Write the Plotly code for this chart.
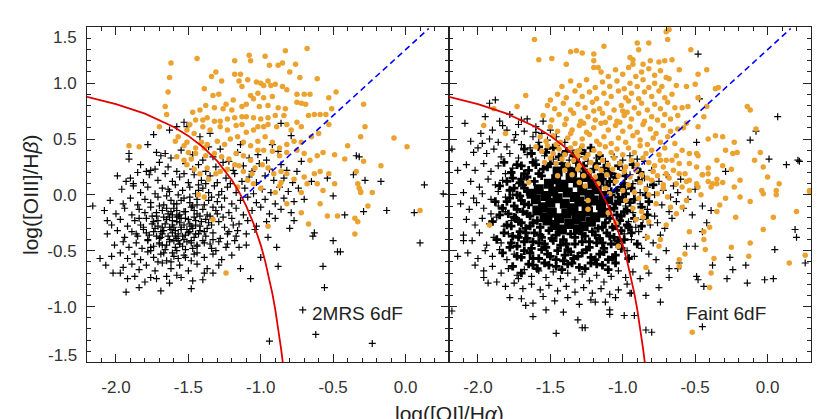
"""BPT-style [OI] diagnostic diagram: 2MRS 6dF vs Faint 6dF."""

import plotly.graph_objects as go

# ---- left panel (2MRS 6dF): star-forming / composite points (black crosses)
left_sf = [
    (-1.72, 0.38), (-1.62, 0.33), (-1.55, 0.40), (-1.47, 0.36), (-1.40, 0.31), (-1.33, 0.34), (-1.28, 0.41),
    (-1.22, 0.30), (-1.16, 0.38), (-1.08, 0.33), (-1.02, 0.36), (-0.96, 0.31), (-0.88, 0.39), (-1.36, 0.43),
    (-1.14, 0.45), (-0.92, 0.45),
    (-1.83, 0.27), (-1.76, 0.22), (-1.70, 0.29), (-1.64, 0.25), (-1.58, 0.21), (-1.52, 0.28), (-1.47, 0.23),
    (-1.43, 0.27), (-1.38, 0.21), (-1.31, 0.25), (-1.26, 0.29), (-1.19, 0.22), (-1.12, 0.26), (-1.06, 0.21),
    (-1.01, 0.28), (-0.94, 0.23), (-0.86, 0.27), (-0.82, 0.22),
    (-1.90, 0.15), (-1.81, 0.11), (-1.77, 0.18), (-1.71, 0.13), (-1.66, 0.19), (-1.61, 0.12), (-1.56, 0.16),
    (-1.50, 0.11), (-1.46, 0.18), (-1.41, 0.13), (-1.35, 0.17), (-1.30, 0.11), (-1.24, 0.15), (-1.18, 0.19),
    (-1.13, 0.12), (-1.08, 0.16), (-1.03, 0.11), (-0.97, 0.17), (-0.91, 0.13), (-0.84, 0.15), (-0.78, 0.11),
    (-1.53, 0.19), (-1.38, 0.10), (-1.21, 0.10),
    (-1.96, 0.05), (-1.88, 0.08), (-1.83, 0.02), (-1.78, 0.07), (-1.73, 0.01), (-1.68, 0.06), (-1.63, 0.03),
    (-1.59, 0.09), (-1.54, 0.04), (-1.49, 0.07), (-1.45, 0.01), (-1.40, 0.06), (-1.36, 0.02), (-1.32, 0.08),
    (-1.27, 0.03), (-1.23, 0.07), (-1.17, 0.02), (-1.11, 0.06), (-1.05, 0.01), (-0.99, 0.05), (-0.93, 0.02),
    (-0.87, 0.07), (-0.81, 0.03), (-0.74, 0.06), (-1.57, 0.00), (-1.43, 0.09), (-1.29, 0.00),
    (-2.04, -0.05), (-1.95, -0.08), (-1.90, -0.03), (-1.85, -0.09), (-1.80, -0.04), (-1.76, -0.07), (-1.71, -0.02),
    (-1.67, -0.09), (-1.62, -0.05), (-1.58, -0.08), (-1.53, -0.03), (-1.49, -0.07), (-1.44, -0.04), (-1.39, -0.09),
    (-1.34, -0.02), (-1.30, -0.06), (-1.25, -0.03), (-1.20, -0.08), (-1.14, -0.05), (-1.09, -0.02), (-1.03, -0.07),
    (-0.97, -0.04), (-0.90, -0.08), (-0.84, -0.03), (-0.77, -0.06), (-0.70, -0.04), (-1.65, -0.01), (-1.47, -0.10),
    (-1.36, -0.05),
    (-2.08, -0.14), (-2.00, -0.17), (-1.94, -0.12), (-1.89, -0.18), (-1.84, -0.13), (-1.80, -0.16), (-1.76, -0.11),
    (-1.72, -0.19), (-1.68, -0.14), (-1.64, -0.17), (-1.60, -0.12), (-1.56, -0.18), (-1.52, -0.15), (-1.48, -0.11),
    (-1.44, -0.17), (-1.40, -0.13), (-1.35, -0.19), (-1.31, -0.14), (-1.27, -0.11), (-1.22, -0.16), (-1.17, -0.12),
    (-1.12, -0.18), (-1.06, -0.14), (-1.00, -0.11), (-0.94, -0.17), (-0.86, -0.13), (-0.79, -0.16), (-1.70, -0.10),
    (-1.58, -0.20), (-1.46, -0.14), (-1.62, -0.15), (-1.33, -0.11),
    (-2.03, -0.27), (-1.97, -0.22), (-1.92, -0.28), (-1.87, -0.23), (-1.83, -0.27), (-1.79, -0.21), (-1.75, -0.26),
    (-1.71, -0.23), (-1.68, -0.29), (-1.65, -0.22), (-1.61, -0.27), (-1.58, -0.24), (-1.55, -0.29), (-1.52, -0.21),
    (-1.49, -0.26), (-1.45, -0.23), (-1.42, -0.28), (-1.38, -0.22), (-1.34, -0.27), (-1.29, -0.24), (-1.25, -0.29),
    (-1.20, -0.21), (-1.15, -0.26), (-1.09, -0.23), (-1.03, -0.28), (-0.96, -0.24), (-0.90, -0.21), (-1.63, -0.20),
    (-1.73, -0.30), (-1.56, -0.25), (-1.47, -0.30), (-1.60, -0.29),
    (-2.06, -0.35), (-1.99, -0.32), (-1.94, -0.38), (-1.89, -0.33), (-1.85, -0.37), (-1.81, -0.31), (-1.77, -0.36),
    (-1.74, -0.33), (-1.70, -0.39), (-1.67, -0.32), (-1.64, -0.37), (-1.61, -0.34), (-1.58, -0.39), (-1.55, -0.31),
    (-1.52, -0.36), (-1.49, -0.33), (-1.46, -0.38), (-1.42, -0.32), (-1.38, -0.37), (-1.33, -0.34), (-1.28, -0.39),
    (-1.22, -0.33), (-1.17, -0.37), (-1.10, -0.35), (-1.04, -0.31), (-0.95, -0.38), (-1.62, -0.31), (-1.57, -0.35),
    (-1.72, -0.37), (-1.68, -0.35), (-1.53, -0.40),
    (-2.01, -0.45), (-1.95, -0.42), (-1.91, -0.47), (-1.86, -0.43), (-1.82, -0.48), (-1.78, -0.41), (-1.74, -0.46),
    (-1.70, -0.43), (-1.66, -0.49), (-1.63, -0.42), (-1.59, -0.47), (-1.56, -0.44), (-1.52, -0.49), (-1.48, -0.41),
    (-1.44, -0.46), (-1.39, -0.43), (-1.34, -0.48), (-1.29, -0.42), (-1.24, -0.47), (-1.18, -0.41), (-1.10, -0.45),
    (-1.60, -0.41), (-1.68, -0.45), (-1.76, -0.50), (-1.54, -0.46),
    (-2.03, -0.55), (-1.97, -0.52), (-1.92, -0.57), (-1.87, -0.53), (-1.83, -0.58), (-1.78, -0.51), (-1.74, -0.56),
    (-1.69, -0.53), (-1.65, -0.59), (-1.61, -0.52), (-1.57, -0.57), (-1.53, -0.54), (-1.48, -0.59), (-1.44, -0.52),
    (-1.39, -0.56), (-1.33, -0.53), (-1.27, -0.58), (-1.20, -0.54), (-1.60, -0.55), (-1.71, -0.60),
    (-1.95, -0.65), (-1.89, -0.62), (-1.84, -0.67), (-1.79, -0.63), (-1.73, -0.68), (-1.68, -0.61), (-1.62, -0.66),
    (-1.56, -0.63), (-1.50, -0.68), (-1.44, -0.62), (-1.37, -0.66), (-1.29, -0.63),
    (-1.87, -0.73), (-1.80, -0.78), (-1.72, -0.75), (-1.63, -0.79), (-1.55, -0.74), (-1.47, -0.77), (-1.40, -0.76),
    # denser core
    (-1.74, -0.24), (-1.69, -0.33), (-1.66, -0.26), (-1.63, -0.40), (-1.59, -0.32), (-1.57, -0.19), (-1.54, -0.37),
    (-1.51, -0.31), (-1.48, -0.43), (-1.45, -0.27), (-1.43, -0.35), (-1.40, -0.41), (-1.37, -0.18), (-1.70, -0.44),
    (-1.65, -0.12), (-1.61, -0.23), (-1.56, -0.44), (-1.53, -0.15), (-1.50, -0.22), (-1.47, -0.48), (-1.44, -0.09),
    (-1.41, -0.24), (-1.78, -0.40), (-1.72, -0.16), (-1.67, -0.52), (-1.58, -0.50), (-1.52, -0.56), (-1.46, -0.53),
    (-1.62, -0.60), (-1.55, -0.05), (-1.49, -0.02), (-1.43, 0.04), (-1.37, -0.30), (-1.35, -0.44), (-1.81, -0.29),
    (-1.84, -0.21), (-1.86, -0.35), (-1.76, -0.47), (-1.60, -0.08), (-1.64, 0.05),
    (-1.71, -0.28), (-1.67, -0.20), (-1.63, -0.29), (-1.59, -0.37), (-1.55, -0.21), (-1.51, -0.42), (-1.48, -0.28),
    (-1.45, -0.35), (-1.42, -0.19), (-1.39, -0.33), (-1.36, -0.25), (-1.33, -0.40), (-1.30, -0.17), (-1.69, -0.38),
    (-1.65, -0.45), (-1.61, -0.18), (-1.57, -0.41), (-1.53, -0.27), (-1.50, -0.34), (-1.46, -0.20), (-1.79, -0.34),
    (-1.75, -0.19), (-1.58, -0.14), (-1.44, -0.45), (-1.26, -0.20), (-1.23, -0.35), (-1.19, -0.27), (-1.31, -0.50),
    # upper and outlying points
    (-1.74, 0.54), (-1.78, 0.45), (-1.91, 0.37), (-1.91, 0.32), (-1.99, 0.17), (-1.93, 0.12), (-1.88, 0.10),
    (-1.85, 0.20), (-1.79, 0.21), (-1.73, 0.23), (-1.69, 0.35), (-1.66, 0.37), (-1.63, 0.58), (-1.58, 0.61),
    (-1.53, 0.65), (-1.51, 0.61), (-1.42, 0.52), (-1.35, 0.55), (-0.86, 0.64), (-0.79, 0.53), (-0.75, 0.21),
    (-0.72, 0.30), (-0.65, 0.12), (-0.54, 0.15), (-0.50, -0.01), (-0.32, 0.34), (-0.28, 0.13), (-0.17, 0.12),
    (-2.16, -0.10), (-2.11, -0.57), (-2.07, -0.63), (-2.06, -0.23), (-2.02, -0.70), (-1.93, -0.87), (-1.84, -0.83),
    (-1.69, -0.86), (-1.48, -0.84), (-0.94, -1.31), (-0.71, -1.03), (-0.62, -1.25), (-0.23, -1.33), (-0.56, -0.83),
    (-0.57, -0.64), (-0.50, -0.41), (-0.47, -0.51), (-0.45, -0.51), (0.13, 0.09), (0.26, 0.01), (0.10, -0.43),
    (-0.13, -0.14), (0.06, -0.16), (-0.29, -0.15), (-0.34, 0.35), (-0.36, 0.18), (-0.42, -0.18), (-0.63, -0.34),
    (-0.64, -0.37), (-0.77, -0.23), (-0.80, -0.30), (-0.89, -0.47), (-1.00, -0.56), (-0.88, -0.64), (-1.14, -0.66),
    (-1.07, -0.75), (-1.15, -0.47), (-1.23, -0.44), (-1.16, -0.32), (-1.33, -0.70), (-1.39, -0.70), (-1.58, -0.72),
    (-1.65, -0.73), (-1.76, -0.74), (-1.92, -0.75), (-1.97, -0.70),
]

# ---- left panel: AGN-like points (orange dots)
left_agn = [
    (-1.62, 1.18), (-1.63, 1.05), (-1.64, 0.92), (-1.66, 0.79), (-1.65, 0.72), (-1.70, 0.61), (-1.91, 0.44),
    (-1.84, 0.43), (-1.44, 1.22), (-1.08, 1.25), (-1.07, 1.20), (-1.18, 1.20), (-0.97, 1.24), (-0.94, 1.16),
    (-0.83, 1.29), (-0.68, 1.31), (-0.85, 1.18), (-0.88, 1.16), (-0.76, 1.17), (-0.80, 1.10), (-1.31, 1.10),
    (-1.34, 1.06), (-1.27, 1.02), (-1.18, 1.08), (-1.14, 1.08), (-1.15, 1.02), (-1.09, 1.03), (-1.13, 0.97),
    (-1.03, 1.01), (-1.00, 1.00), (-0.95, 1.02), (-0.93, 0.98), (-0.98, 0.98), (-0.90, 0.99), (-0.85, 0.97),
    (-0.82, 0.94), (-0.73, 1.05), (-0.61, 1.04), (-0.48, 0.92), (-0.53, 0.87), (-1.39, 0.95), (-1.33, 0.89),
    (-1.29, 0.90), (-1.19, 0.85), (-1.07, 0.89), (-1.02, 0.91), (-0.98, 0.87), (-0.92, 0.88), (-0.75, 0.90),
    (-0.70, 0.90), (-0.66, 0.90), (-0.75, 0.83), (-0.72, 0.82), (-0.69, 0.81), (-0.51, 0.77), (-0.29, 0.81),
    (-0.28, 0.61), (-0.31, 0.52), (-0.08, 0.51), (0.01, 0.43), (-1.47, 0.74), (-1.42, 0.76), (-1.38, 0.80),
    (-1.32, 0.78), (-1.24, 0.81), (-1.26, 0.77), (-1.20, 0.76), (-1.13, 0.79), (-1.10, 0.81), (-1.05, 0.86),
    (-1.01, 0.79), (-0.95, 0.80), (-0.88, 0.78), (-0.83, 0.77), (-0.84, 0.71), (-0.90, 0.71), (-0.95, 0.69),
    (-1.00, 0.68), (-1.05, 0.69), (-1.10, 0.70), (-1.13, 0.70), (-1.18, 0.69), (-1.23, 0.68), (-1.28, 0.66),
    (-1.32, 0.66), (-1.37, 0.69), (-1.40, 0.67), (-1.45, 0.67), (-1.49, 0.63), (-1.51, 0.58), (-1.57, 0.52),
    (-1.59, 0.48), (-1.53, 0.44), (-1.46, 0.55), (-1.40, 0.61), (-1.35, 0.58), (-1.28, 0.61), (-1.23, 0.58),
    (-1.17, 0.62), (-1.13, 0.63), (-1.10, 0.56), (-1.05, 0.58), (-1.02, 0.61), (-0.98, 0.61), (-0.95, 0.63),
    (-0.89, 0.61), (-0.82, 0.63), (-0.79, 0.58), (-0.75, 0.65), (-0.72, 0.61), (-0.67, 0.71), (-0.63, 0.72),
    (-0.59, 0.72), (-0.55, 0.72), (-0.53, 0.63), (-0.60, 0.55), (-0.65, 0.52), (-0.72, 0.47), (-0.77, 0.48),
    (-0.82, 0.45), (-0.87, 0.42), (-0.92, 0.47), (-0.97, 0.52), (-1.02, 0.48), (-1.07, 0.44), (-1.12, 0.47),
    (-1.16, 0.52), (-1.21, 0.50), (-1.25, 0.45), (-1.30, 0.48), (-1.37, 0.45), (-1.41, 0.47), (-1.45, 0.42),
    (-1.50, 0.38), (-1.58, 0.34), (-1.53, 0.31), (-1.45, 0.37), (-1.38, 0.35), (-1.32, 0.37), (-1.27, 0.34),
    (-1.22, 0.32), (-1.17, 0.37), (-1.12, 0.35), (-1.07, 0.31), (-1.02, 0.40), (-0.98, 0.40), (-0.92, 0.39),
    (-0.87, 0.35), (-0.82, 0.38), (-0.75, 0.40), (-0.70, 0.37), (-0.66, 0.31), (-0.61, 0.35), (-0.57, 0.38),
    (-0.49, 0.36), (-0.42, 0.32), (-0.40, 0.44), (-0.29, 0.30), (-0.17, 0.26), (-0.34, 0.21), (-0.33, 0.10),
    (-0.32, 0.06), (-0.31, 0.03), (-0.23, 0.02), (-0.57, 0.04), (-0.53, 0.19), (-0.59, 0.21), (-0.63, 0.19),
    (-0.70, 0.16), (-0.77, 0.14), (-0.82, 0.19), (-0.86, 0.21), (-0.91, 0.19), (-0.95, 0.24), (-0.99, 0.27),
    (-1.04, 0.24), (-1.06, 0.19), (-1.12, 0.21), (-1.15, 0.26), (-1.18, 0.27), (-1.23, 0.23), (-1.28, 0.21),
    (-1.31, 0.19), (-1.36, 0.14), (-1.42, 0.19), (-1.46, 0.23), (-1.51, 0.27), (-1.37, 0.24), (-1.09, 0.13),
    (-1.05, 0.10), (-1.00, 0.06), (-0.86, 0.11), (-0.87, 0.08), (-0.72, 0.02), (-0.68, 0.10), (-0.61, 0.10),
    (-0.49, 0.10), (-1.39, 0.42), (-1.48, 0.32), (-1.51, 0.47),
    (-1.43, 0.00), (-1.39, -0.02), (-1.33, -0.22), (-1.24, -0.70), (-1.16, 0.07), (-0.95, -0.28), (-0.90, 0.02),
    (-0.82, -0.08), (-0.72, -0.16), (-0.67, -0.26), (-0.59, -0.08), (-0.54, -0.19), (-0.47, -0.19), (-0.35, -0.21),
    (-0.33, -0.24), (-0.35, -0.35), (-0.26, -0.10), (-0.31, 0.02), (0.10, -0.14),
]

# ---- right panel (Faint 6dF): black crosses, outer cloud
right_sf = [
    # upper left wing
    (-1.88, 0.85), (-1.92, 0.82), (-2.09, 0.64), (-2.18, 0.41), (-2.14, 0.22), (-2.03, 0.38), (-1.95, 0.70),
    (-1.85, 0.66), (-1.78, 0.72), (-1.72, 0.63), (-1.66, 0.68), (-1.60, 0.61), (-1.55, 0.66), (-1.80, 0.58),
    (-1.74, 0.54), (-1.68, 0.57), (-1.62, 0.52), (-1.56, 0.55), (-1.50, 0.58), (-1.46, 0.52), (-1.98, 0.55),
    (-1.92, 0.50), (-1.86, 0.47), (-1.80, 0.43), (-1.75, 0.49), (-1.70, 0.45), (-1.64, 0.42), (-1.58, 0.47),
    (-1.52, 0.41), (-1.46, 0.44), (-1.40, 0.47), (-1.35, 0.40), (-2.05, 0.48), (-2.00, 0.42), (-1.94, 0.37),
    (-1.89, 0.41), (-1.84, 0.34), (-1.78, 0.37), (-1.72, 0.33), (-1.66, 0.36), (-1.60, 0.31), (-1.54, 0.35),
    (-1.48, 0.32), (-1.42, 0.36), (-1.37, 0.31), (-1.30, 0.34), (-1.24, 0.30), (-1.18, 0.33), (-1.12, 0.30),
    (-1.06, 0.34), (-1.00, 0.31), (-0.95, 0.35), (-0.90, 0.32), (-0.85, 0.30), (-1.83, 0.62), (-1.70, 0.67),
    (-1.90, 0.58), (-1.97, 0.46), (-1.60, 0.56), (-1.52, 0.49),
    # left and right flanks of the cloud
    (-2.08, 0.27), (-2.02, 0.22), (-1.96, 0.28), (-1.91, 0.21), (-1.86, 0.26), (-1.81, 0.19), (-1.76, 0.24),
    (-2.05, 0.12), (-1.99, 0.07), (-1.93, 0.14), (-1.88, 0.09), (-1.83, 0.13), (-1.78, 0.05), (-1.72, 0.10),
    (-2.10, 0.02), (-2.03, -0.03), (-1.97, 0.01), (-1.91, -0.04), (-1.86, 0.03), (-1.81, -0.02), (-1.76, 0.00),
    (-1.00, 0.22), (-0.95, 0.18), (-0.90, 0.24), (-0.85, 0.15), (-0.80, 0.22), (-0.75, 0.12), (-0.70, 0.18),
    (-0.65, 0.08), (-0.60, 0.14), (-0.98, 0.05), (-0.93, 0.10), (-0.88, 0.02), (-0.83, 0.07), (-0.78, 0.00),
    (-0.72, 0.04), (-0.67, -0.02), (-0.62, 0.02), (-0.55, -0.04), (-0.50, 0.05),
    (-2.12, -0.08), (-2.06, -0.13), (-2.01, -0.07), (-1.96, -0.12), (-1.91, -0.17), (-1.86, -0.10), (-1.81, -0.15),
    (-2.08, -0.22), (-2.02, -0.27), (-1.97, -0.21), (-1.92, -0.26), (-1.87, -0.20), (-1.82, -0.28), (-1.77, -0.23),
    (-0.98, -0.10), (-0.93, -0.16), (-0.88, -0.08), (-0.83, -0.13), (-0.78, -0.19), (-0.73, -0.09), (-0.68, -0.15),
    (-0.63, -0.06), (-0.58, -0.12), (-0.96, -0.24), (-0.91, -0.29), (-0.86, -0.22), (-0.81, -0.27), (-0.76, -0.25),
    (-0.71, -0.30), (-0.66, -0.21), (-0.52, -0.18), (-0.45, -0.10),
    (-2.10, -0.36), (-2.04, -0.41), (-1.99, -0.34), (-1.94, -0.45), (-1.89, -0.38), (-1.84, -0.43), (-1.79, -0.35),
    (-2.07, -0.52), (-2.00, -0.57), (-1.95, -0.50), (-1.90, -0.55), (-1.85, -0.49), (-1.80, -0.58), (-1.75, -0.53),
    (-0.99, -0.35), (-0.94, -0.40), (-0.89, -0.33), (-0.84, -0.38), (-0.79, -0.43), (-0.74, -0.36), (-0.97, -0.50),
    (-0.92, -0.55), (-0.87, -0.48), (-0.82, -0.53), (-0.77, -0.58), (-0.70, -0.50),
    # lower part of the cloud
    (-2.02, -0.63), (-1.96, -0.68), (-1.90, -0.64), (-1.84, -0.70), (-1.79, -0.66), (-1.73, -0.72), (-1.68, -0.67),
    (-1.63, -0.73), (-1.58, -0.68), (-1.53, -0.74), (-1.48, -0.69), (-1.43, -0.75), (-1.38, -0.70), (-1.33, -0.76),
    (-1.28, -0.71), (-1.23, -0.77), (-1.18, -0.72), (-1.13, -0.78), (-1.08, -0.73), (-1.03, -0.68), (-0.98, -0.74),
    (-0.93, -0.69), (-0.88, -0.75), (-0.82, -0.70), (-1.87, -0.78), (-1.81, -0.82), (-1.75, -0.79), (-1.69, -0.84),
    (-1.63, -0.80), (-1.57, -0.85), (-1.51, -0.81), (-1.45, -0.86), (-1.39, -0.82), (-1.33, -0.87), (-1.27, -0.83),
    (-1.21, -0.88), (-1.15, -0.84), (-1.09, -0.89), (-1.03, -0.85), (-0.97, -0.80),
    (-1.70, -0.93), (-1.62, -0.97), (-1.55, -0.91), (-1.47, -0.95), (-1.38, -0.92), (-1.30, -0.98), (-1.22, -0.94),
    (-1.12, -0.96), (-1.05, -0.92),
    # scattered outliers
    (-2.18, -1.04), (-2.14, -0.55), (-2.10, -0.41), (-1.96, -0.74), (-1.93, -0.79), (-1.78, -0.92), (-1.72, -0.75),
    (-1.67, -0.99), (-1.62, -1.09), (-1.53, -1.03), (-1.46, -1.24), (-1.41, -1.05), (-1.31, -1.12), (-1.28, -1.19),
    (-1.26, -1.19), (-1.19, -0.96), (-1.09, -1.03), (-1.09, -1.07), (-0.99, -1.08), (-0.92, -1.08), (-0.95, -0.88),
    (-0.94, -0.88), (-0.84, -1.21), (-0.80, -1.23), (-0.84, -0.90), (-0.74, -0.96), (-0.75, -0.83), (-0.68, -0.66),
    (-0.68, -0.74), (-0.62, -0.66), (-0.61, -0.61), (-0.50, -0.46), (-0.56, -0.46), (-0.49, -0.73), (-0.48, -0.76),
    (-0.44, -0.82), (-0.45, -1.18), (-0.38, -0.63), (-0.28, -0.75), (-0.26, -0.56), (-0.24, -0.67), (-0.15, -0.63),
    (-0.14, -0.79), (-0.02, -0.76), (0.04, -0.75), (0.05, -0.49), (0.19, -0.31), (0.20, -0.38), (0.26, -0.61),
    (0.13, 0.27), (0.21, 0.31), (-0.39, -0.14), (-0.42, -0.25), (-0.45, -0.33), (-0.48, 1.26), (-0.47, 0.86),
    (0.07, 0.70), (-0.08, 0.57), (-0.12, 0.49), (0.22, 0.30), (0.01, 0.32), (-0.29, 0.21), (-0.49, 0.47),
]

# ---- right panel: dense zone around the core, crosses crowd together here
right_sf_dense = [
    (-1.70, 0.26), (-1.65, 0.22), (-1.60, 0.27), (-1.55, 0.23), (-1.50, 0.28), (-1.40, 0.25), (-1.30, 0.24),
    (-1.20, 0.23), (-1.15, 0.18), (-1.10, 0.21), (-1.05, 0.16), (-1.76, 0.15), (-1.71, 0.11), (-1.66, 0.16),
    (-1.61, 0.12), (-1.56, 0.17), (-1.11, 0.08), (-1.06, 0.12), (-1.01, 0.07), (-1.78, 0.04), (-1.73, 0.00),
    (-1.68, 0.06), (-1.08, 0.03), (-1.03, -0.02), (-0.98, 0.01), (-1.80, -0.06), (-1.75, -0.10), (-1.70, -0.05),
    (-1.65, -0.09), (-1.05, -0.08), (-1.00, -0.03), (-0.95, -0.07), (-1.79, -0.17), (-1.74, -0.21), (-1.69, -0.15),
    (-1.64, -0.19), (-1.09, -0.13), (-1.04, -0.18), (-0.99, -0.15), (-1.77, -0.28), (-1.72, -0.24), (-1.67, -0.30),
    (-1.62, -0.25), (-1.57, -0.29), (-1.17, -0.30), (-1.12, -0.25), (-1.07, -0.29), (-1.02, -0.23), (-0.97, -0.27),
    (-1.76, -0.37), (-1.71, -0.33), (-1.66, -0.39), (-1.61, -0.34), (-1.56, -0.38), (-1.51, -0.32), (-1.46, -0.36),
    (-1.41, -0.40), (-1.36, -0.35), (-1.26, -0.37), (-1.21, -0.33), (-1.16, -0.39), (-1.11, -0.34), (-1.06, -0.38),
    (-1.01, -0.32),
    (-1.73, -0.46), (-1.68, -0.42), (-1.63, -0.48), (-1.58, -0.43), (-1.53, -0.47), (-1.48, -0.41), (-1.43, -0.45),
    (-1.38, -0.49), (-1.33, -0.44), (-1.28, -0.42), (-1.23, -0.47), (-1.18, -0.43), (-1.13, -0.48), (-1.08, -0.44),
    (-1.03, -0.41), (-1.70, -0.56), (-1.64, -0.52), (-1.58, -0.57), (-1.52, -0.53), (-1.46, -0.58), (-1.40, -0.54),
    (-1.34, -0.57), (-1.28, -0.52), (-1.22, -0.56), (-1.16, -0.53), (-1.10, -0.58), (-1.05, -0.54),
    (-1.62, -0.63), (-1.54, -0.61), (-1.46, -0.64), (-1.38, -0.62), (-1.30, -0.65), (-1.22, -0.61), (-1.14, -0.63),
    (-1.68, 0.41), (-1.63, 0.37), (-1.58, 0.43), (-1.53, 0.38), (-1.48, 0.42), (-1.44, 0.34), (-1.39, 0.39),
    (-1.34, 0.35), (-1.29, 0.40), (-1.26, 0.37), (-1.22, 0.42), (-1.16, 0.35),
    (-1.82, 0.29), (-1.77, 0.20), (-1.73, 0.27), (-1.68, 0.19), (-1.62, 0.29), (-1.58, 0.19), (-1.52, 0.25),
    (-1.42, 0.28), (-1.37, 0.24), (-1.32, 0.29), (-1.27, 0.26), (-1.18, 0.28), (-1.13, 0.24), (-1.08, 0.19),
    (-1.03, 0.26), (-0.98, 0.17), (-0.93, 0.27), (-0.88, 0.20),
    (-1.85, 0.08), (-1.80, 0.12), (-1.75, 0.06), (-1.70, 0.14), (-1.66, 0.03), (-1.09, 0.12), (-1.04, 0.04),
    (-0.99, 0.10), (-0.94, 0.06), (-0.89, 0.13), (-0.84, 0.00), (-0.79, 0.09), (-1.69, 0.09), (-1.14, 0.14),
    (-1.88, -0.06), (-1.83, -0.12), (-1.78, -0.03), (-1.73, -0.13), (-1.68, -0.08), (-1.06, -0.12), (-1.02, -0.06),
    (-0.97, -0.14), (-0.92, -0.04), (-0.87, -0.11), (-0.82, -0.06), (-1.71, -0.01), (-1.08, 0.00),
    (-1.90, -0.24), (-1.85, -0.18), (-1.80, -0.27), (-1.75, -0.20), (-1.70, -0.25), (-1.66, -0.17), (-1.64, -0.28),
    (-1.09, -0.21), (-1.05, -0.28), (-1.01, -0.19), (-0.96, -0.29), (-0.92, -0.21), (-0.87, -0.28), (-0.83, -0.18),
    (-1.14, -0.29), (-1.59, -0.23),
    (-1.87, -0.40), (-1.82, -0.34), (-1.77, -0.43), (-1.72, -0.38), (-1.67, -0.34), (-1.62, -0.42), (-1.57, -0.36),
    (-1.54, -0.44), (-1.49, -0.39), (-1.44, -0.33), (-1.39, -0.44), (-1.33, -0.38), (-1.28, -0.35), (-1.23, -0.42),
    (-1.19, -0.36), (-1.14, -0.43), (-1.09, -0.37), (-1.04, -0.44), (-0.99, -0.40), (-0.94, -0.34), (-0.90, -0.44),
    (-1.83, -0.52), (-1.78, -0.47), (-1.73, -0.55), (-1.68, -0.50), (-1.62, -0.57), (-1.56, -0.49), (-1.50, -0.55),
    (-1.45, -0.50), (-1.41, -0.59), (-1.36, -0.51), (-1.31, -0.55), (-1.25, -0.49), (-1.19, -0.58), (-1.13, -0.51),
    (-1.07, -0.56), (-1.01, -0.48), (-0.96, -0.57),
    (-1.76, -0.64), (-1.70, -0.70), (-1.65, -0.62), (-1.59, -0.66), (-1.51, -0.63), (-1.42, -0.67), (-1.35, -0.61),
    (-1.26, -0.66), (-1.18, -0.62), (-1.10, -0.67), (-1.05, -0.61),
]

# ---- right panel: saturated core, where the crosses overlap into solid black
right_sf_core = [
    (-1.45, 0.21), (-1.35, 0.20), (-1.25, 0.19),
    (-1.51, 0.10), (-1.46, 0.14), (-1.41, 0.09), (-1.36, 0.15), (-1.31, 0.11), (-1.26, 0.16), (-1.21, 0.10),
    (-1.16, 0.13),
    (-1.63, 0.01), (-1.58, 0.05), (-1.53, -0.01), (-1.48, 0.03), (-1.43, 0.07), (-1.38, 0.02), (-1.33, -0.02),
    (-1.28, 0.04), (-1.23, 0.00), (-1.18, 0.05), (-1.13, -0.01),
    (-1.60, -0.04), (-1.55, -0.11), (-1.50, -0.07), (-1.45, -0.03), (-1.40, -0.08), (-1.35, -0.12), (-1.30, -0.06),
    (-1.25, -0.10), (-1.20, -0.05), (-1.15, -0.09), (-1.10, -0.04),
    (-1.59, -0.14), (-1.54, -0.20), (-1.49, -0.16), (-1.44, -0.21), (-1.39, -0.17), (-1.34, -0.14), (-1.29, -0.19),
    (-1.24, -0.15), (-1.19, -0.20), (-1.14, -0.16),
    (-1.52, -0.23), (-1.47, -0.27), (-1.42, -0.31), (-1.37, -0.26), (-1.32, -0.22), (-1.27, -0.28), (-1.22, -0.24),
    (-1.31, -0.31),
]

# ---- right panel: AGN-like points (orange dots)
right_agn = [
    (-1.61, 1.39), (-1.58, 1.21), (-1.49, 1.22), (-1.39, 1.17), (-1.36, 1.28), (-1.32, 1.29), (-1.28, 1.27),
    (-1.20, 1.26), (-1.13, 1.33), (-0.90, 1.36), (-0.89, 1.30), (-0.82, 1.36), (-0.70, 1.46), (-0.69, 1.39),
    (-0.68, 1.48), (-0.53, 1.30), (-1.20, 1.20), (-1.20, 1.14), (-1.17, 1.14), (-0.95, 1.23), (-0.93, 1.21),
    (-0.86, 1.17), (-0.81, 1.20), (-0.75, 1.19), (-0.71, 1.20), (-0.66, 1.21), (-0.61, 1.12), (-0.42, 1.12),
    (-0.48, 1.08), (-0.68, 1.04), (-0.63, 0.98), (-0.56, 0.97), (-0.50, 0.99), (-0.48, 0.87), (-0.36, 0.95),
    (-0.34, 0.96), (-0.42, 0.79), (-0.44, 0.70), (-0.55, 0.79), (-0.59, 0.78), (-0.56, 0.64), (-0.62, 0.59),
    (-0.48, 0.61), (-0.41, 0.50), (-0.36, 0.53), (-0.31, 0.52), (-0.14, 0.79), (-0.12, 0.76), (-0.08, 0.59),
    (-0.23, 0.47), (-0.21, 0.38), (-0.29, 0.40), (-0.03, 0.25), (0.00, 0.16), (0.08, 0.10), (0.06, 0.04),
    (-0.03, 0.01), (0.29, 0.03), (-0.25, 0.23), (-0.19, 0.13), (-0.31, 0.11), (-0.35, 0.14), (-0.38, 0.10),
    (-0.41, 0.19), (-0.45, 0.18), (-0.49, 0.25), (-0.48, 0.35), (-0.54, 0.37), (-0.59, 0.40), (-0.63, 0.35),
    (-0.61, 0.28), (-0.57, 0.19), (-0.54, 0.13), (-0.48, 0.07), (-0.59, 0.07), (-0.63, 0.10), (-0.68, 0.15),
    (-0.70, 0.19), (-0.72, 0.25), (-0.66, 0.31), (-1.67, 0.89), (-1.73, 0.79), (-1.96, 0.62), (-1.89, 0.77),
    (-1.81, 0.55), (-1.65, 0.11),
    (-1.05, 1.12), (-1.00, 1.08), (-0.96, 1.14), (-0.91, 1.06), (-0.87, 1.10), (-0.82, 1.13), (-0.78, 1.07),
    (-0.74, 1.11), (-1.10, 1.06), (-0.70, 1.05), (-1.15, 1.10), (-0.93, 1.17),
    (-1.30, 0.98), (-1.25, 1.03), (-1.19, 0.96), (-1.14, 1.01), (-1.09, 0.97), (-1.04, 1.02), (-0.99, 0.95),
    (-0.95, 1.00), (-0.90, 0.97), (-0.86, 1.03), (-0.82, 0.96), (-0.78, 1.00), (-0.73, 0.97), (-1.36, 1.02),
    (-1.42, 0.97),
    (-1.45, 0.90), (-1.39, 0.87), (-1.33, 0.93), (-1.28, 0.88), (-1.23, 0.92), (-1.18, 0.86), (-1.13, 0.91),
    (-1.08, 0.88), (-1.03, 0.93), (-0.98, 0.87), (-0.94, 0.91), (-0.89, 0.86), (-0.85, 0.92), (-0.80, 0.88),
    (-0.75, 0.93), (-0.71, 0.87), (-0.66, 0.90), (-1.50, 0.85),
    (-1.52, 0.80), (-1.47, 0.77), (-1.41, 0.82), (-1.36, 0.76), (-1.31, 0.81), (-1.26, 0.78), (-1.21, 0.83),
    (-1.16, 0.77), (-1.11, 0.82), (-1.06, 0.76), (-1.01, 0.80), (-0.96, 0.84), (-0.92, 0.78), (-0.87, 0.82),
    (-0.83, 0.76), (-0.78, 0.81), (-0.74, 0.77), (-0.69, 0.83), (-0.64, 0.78), (-1.00, 0.75), (-1.20, 0.75),
    (-1.55, 0.71), (-1.49, 0.67), (-1.44, 0.72), (-1.39, 0.68), (-1.34, 0.73), (-1.29, 0.66), (-1.24, 0.70),
    (-1.19, 0.67), (-1.14, 0.73), (-1.09, 0.69), (-1.04, 0.66), (-0.99, 0.71), (-0.94, 0.68), (-0.89, 0.73),
    (-0.85, 0.66), (-0.80, 0.70), (-0.76, 0.67), (-0.71, 0.72), (-0.67, 0.68), (-0.62, 0.71), (-1.12, 0.65),
    (-0.97, 0.74),
    (-1.50, 0.61), (-1.45, 0.57), (-1.40, 0.63), (-1.35, 0.58), (-1.30, 0.62), (-1.25, 0.56), (-1.20, 0.60),
    (-1.15, 0.64), (-1.10, 0.58), (-1.05, 0.62), (-1.00, 0.57), (-0.95, 0.61), (-0.90, 0.56), (-0.86, 0.63),
    (-0.81, 0.59), (-0.77, 0.55), (-0.72, 0.62), (-0.67, 0.57), (-0.58, 0.60), (-1.27, 0.64), (-1.02, 0.65),
    (-1.57, 0.52), (-1.53, 0.48), (-1.48, 0.53), (-1.43, 0.47), (-1.38, 0.51), (-1.33, 0.46), (-1.28, 0.50),
    (-1.23, 0.54), (-1.18, 0.48), (-1.13, 0.52), (-1.08, 0.46), (-1.03, 0.51), (-0.98, 0.47), (-0.93, 0.53),
    (-0.88, 0.49), (-0.83, 0.45), (-0.79, 0.51), (-0.74, 0.47), (-0.69, 0.52), (-0.64, 0.46), (-1.36, 0.55),
    (-1.16, 0.45),
    (-1.60, 0.43), (-1.56, 0.39), (-1.52, 0.44), (-1.48, 0.37), (-1.44, 0.41), (-1.40, 0.36), (-1.36, 0.42),
    (-1.32, 0.38), (-1.28, 0.44), (-1.24, 0.36), (-1.20, 0.40), (-1.16, 0.37), (-1.12, 0.43), (-1.08, 0.38),
    (-1.04, 0.41), (-1.00, 0.36), (-0.96, 0.42), (-0.92, 0.38), (-0.88, 0.44), (-0.84, 0.37), (-0.80, 0.40),
    (-0.75, 0.36), (-0.71, 0.42), (-1.46, 0.45), (-1.30, 0.40),
    (-1.50, 0.33), (-1.46, 0.28), (-1.42, 0.32), (-1.38, 0.27), (-1.34, 0.31), (-1.30, 0.26), (-1.26, 0.33),
    (-1.22, 0.29), (-1.18, 0.25), (-1.14, 0.31), (-1.10, 0.27), (-1.06, 0.33), (-1.02, 0.28), (-0.98, 0.25),
    (-0.94, 0.31), (-0.90, 0.27), (-0.86, 0.33), (-0.82, 0.29), (-0.78, 0.26), (-0.74, 0.31), (-1.54, 0.29),
    (-1.31, 0.35),
    (-1.40, 0.22), (-1.35, 0.18), (-1.31, 0.23), (-1.27, 0.17), (-1.23, 0.21), (-1.19, 0.16), (-1.15, 0.22),
    (-1.11, 0.18), (-1.07, 0.23), (-1.03, 0.17), (-0.99, 0.21), (-0.95, 0.16), (-0.91, 0.22), (-0.87, 0.18),
    (-0.83, 0.15), (-0.79, 0.21), (-0.76, 0.17), (-1.45, 0.17),
    (-1.17, 0.10), (-1.12, 0.06), (-1.05, 0.12), (-1.00, 0.04), (-0.96, 0.09), (-0.92, 0.02), (-0.88, 0.11),
    (-0.84, 0.05), (-0.80, 0.13), (-0.76, 0.01), (-0.72, 0.06), (-1.09, 0.01), (-1.26, 0.08), (-1.30, 0.11),
    (-1.24, -0.05), (-1.24, -0.13), (-0.98, -0.05), (-0.93, -0.12), (-0.89, -0.03), (-0.86, -0.20),
    (-1.92, -0.27), (-1.10, -0.16), (-1.05, -0.25), (-1.03, -0.46), (-0.84, -0.65), (-0.91, -0.22), (-0.82, -0.24),
    (-0.83, -0.38), (-0.75, -0.46), (-0.74, -0.40), (-0.70, -0.27), (-0.61, -0.58), (-0.61, -0.64), (-0.57, -0.53),
    (-0.54, -0.33), (-0.44, -0.33), (-0.44, -0.40), (-0.43, -0.49), (-0.40, -0.29), (-0.39, -0.70), (-0.40, -0.83),
    (-0.52, -1.23), (-0.37, -0.57), (-0.25, -0.47), (-0.22, -0.20), (-0.13, -0.55), (-0.12, -0.43), (-0.03, -0.31),
    (0.04, -0.20), (0.15, -0.61), (0.26, -0.54), (0.20, -0.15), (0.29, 0.04), (0.06, 0.00), (-0.04, 0.04),
    (-0.12, -0.06), (-0.19, -0.02), (-0.23, 0.07), (-0.29, -0.03), (-0.33, -0.09), (-0.35, -0.15), (-0.39, 0.07),
    (-0.41, 0.12), (-0.45, 0.18), (-0.49, 0.10), (-0.54, 0.04), (-0.56, -0.05), (-0.59, -0.11), (-0.63, -0.17),
    (-0.67, -0.11), (-0.69, -0.02), (-0.72, 0.09), (-0.77, -0.08), (-0.82, 0.00), (-0.87, -0.15), (-0.09, 0.31),
    (-0.05, 0.38), (-0.24, 0.37), (-0.31, 0.26), (-0.35, 0.31), (-0.41, 0.24), (-0.49, 0.37), (-0.54, 0.28),
    (-0.61, 0.19), (-0.65, 0.22), (-0.70, 0.31), (-0.56, 0.12), (-0.46, 0.00), (-0.35, 0.10),
]

# ---- demarcation lines (Kewley et al. maximum starburst, Seyfert/LINER)
kewley_x = [-2.2, -2.0, -1.8, -1.6, -1.5, -1.4, -1.3, -1.2, -1.15, -1.1, -1.05, -1.0, -0.97,
            -0.94, -0.92, -0.90, -0.88, -0.86, -0.85, -0.845, -0.842]
kewley_y = [0.877, 0.812, 0.727, 0.607, 0.528, 0.429, 0.302, 0.133, 0.026, -0.101, -0.257, -0.450, -0.591,
            -0.756, -0.882, -1.025, -1.187, -1.374, -1.478, -1.533, -1.567]
seyfert_x = [-1.127, 0.16]
seyfert_y = [-0.030, 1.489]

panel_labels = ["2MRS 6dF", "Faint 6dF"]

FONT = "Liberation Sans, Arial, sans-serif"
BLACK = "#000000"
ORANGE = "#EBA22F"

# the page body has an 8px margin, so the figure is laid out in a 830x411 box
PAGE_OFF = 8
W, H = 838 - PAGE_OFF, 419 - PAGE_OFF


def px(x):
    return (x - PAGE_OFF) / W


def py(y):
    return 1 - (y - PAGE_OFF) / H


fig = go.Figure()


def add_points(points, xa, ya, marker):
    xs, ys = zip(*points)
    fig.add_trace(go.Scatter(x=xs, y=ys, mode="markers", xaxis=xa, yaxis=ya, marker=marker))


def add_panel(n, sf_points, agn_points, dense_points=None, core_points=None):
    xa, ya = ("x", "y") if n == 1 else ("x2", "y2")
    add_points(sf_points, xa, ya,
               dict(symbol="cross-thin", size=5, line=dict(width=1.2, color=BLACK)))
    if dense_points:
        add_points(dense_points, xa, ya,
                   dict(symbol="cross", size=7, color=BLACK, line=dict(width=0)))
    if core_points:
        add_points(core_points, xa, ya,
                   dict(symbol="square", size=10, color=BLACK, line=dict(width=0)))
    add_points(agn_points, xa, ya,
               dict(symbol="circle", size=5.5, color=ORANGE, line=dict(width=0)))
    fig.add_trace(go.Scatter(
        x=kewley_x, y=kewley_y, mode="lines", xaxis=xa, yaxis=ya,
        line=dict(color="#E00000", width=1.8),
    ))
    fig.add_trace(go.Scatter(
        x=seyfert_x, y=seyfert_y, mode="lines", xaxis=xa, yaxis=ya,
        line=dict(color="#0000FF", width=1.6, dash="6px,4px"),
    ))


add_panel(1, left_sf, left_agn)
add_panel(2, right_sf, right_agn, right_sf_dense, right_sf_core)

x_dom1 = [px(87), px(449)]
x_dom2 = [px(449), px(811)]
y_dom = [py(362.4), py(27.3)]

axis_common = dict(
    showline=True, linecolor="#222222", linewidth=1, mirror="ticks",
    ticks="inside", ticklen=8, tickwidth=1, tickcolor="#222222",
    showgrid=False, zeroline=False,
    tickfont=dict(family=FONT, size=17, color="#333333"),
    minor=dict(ticks="inside", ticklen=4, tickwidth=1, tickcolor="#222222", dtick=0.1, showgrid=False),
)

xticks = [-2.0, -1.5, -1.0, -0.5, 0.0]
xtick_text = ["-2.0", "-1.5", "-1.0", "-0.5", "0.0"]
yticks = [-1.5, -1.0, -0.5, 0.0, 0.5, 1.0, 1.5]
ytick_text = ["", "-1.0", "-0.5", "0.0", "0.5", "1.0", ""]

fig.update_layout(
    width=W, height=H,
    margin=dict(l=0, r=0, t=0, b=0),
    paper_bgcolor="white", plot_bgcolor="white",
    showlegend=False,
    xaxis=dict(axis_common, domain=x_dom1, range=[-2.2, 0.3], anchor="y",
               tickvals=xticks, ticktext=xtick_text, ticklabelstandoff=9),
    xaxis2=dict(axis_common, domain=x_dom2, range=[-2.2, 0.3], anchor="y2",
                tickvals=xticks, ticktext=xtick_text, ticklabelstandoff=9),
    yaxis=dict(axis_common, domain=y_dom, range=[-1.5, 1.5], anchor="x",
               tickvals=yticks, ticktext=ytick_text, ticklabelstandoff=6),
    yaxis2=dict(axis_common, domain=y_dom, range=[-1.5, 1.5], anchor="x2",
                tickvals=yticks, showticklabels=False),
)

tick_font = dict(family=FONT, size=17, color="#333333")
label_font = dict(family=FONT, size=21, color="#222222")
annotations = [
    # end labels of the y axis sit just inside the frame
    dict(text="1.5", x=px(79), y=py(37), xref="paper", yref="paper",
         xanchor="right", yanchor="middle", showarrow=False, font=tick_font),
    dict(text="-1.5", x=px(79), y=py(355), xref="paper", yref="paper",
         xanchor="right", yanchor="middle", showarrow=False, font=tick_font),
    dict(text="log([OIII]/H<i>β</i>)", x=px(30), y=py(195), xref="paper", yref="paper",
         textangle=-90, xanchor="center", yanchor="middle", showarrow=False, font=label_font),
    dict(text="log([OI]/H<i>α</i>)", x=px(449), y=py(413), xref="paper", yref="paper",
         xanchor="center", yanchor="middle", showarrow=False, font=label_font),
    dict(text=panel_labels[0], x=-0.66, y=-1.06, xref="x", yref="y",
         xanchor="left", yanchor="middle", showarrow=False,
         font=dict(family=FONT, size=19, color="#222222")),
    dict(text=panel_labels[1], x=-0.58, y=-1.06, xref="x2", yref="y2",
         xanchor="left", yanchor="middle", showarrow=False,
         font=dict(family=FONT, size=19, color="#222222")),
]
fig.update_layout(annotations=annotations)

fig.write_html("out.html")
